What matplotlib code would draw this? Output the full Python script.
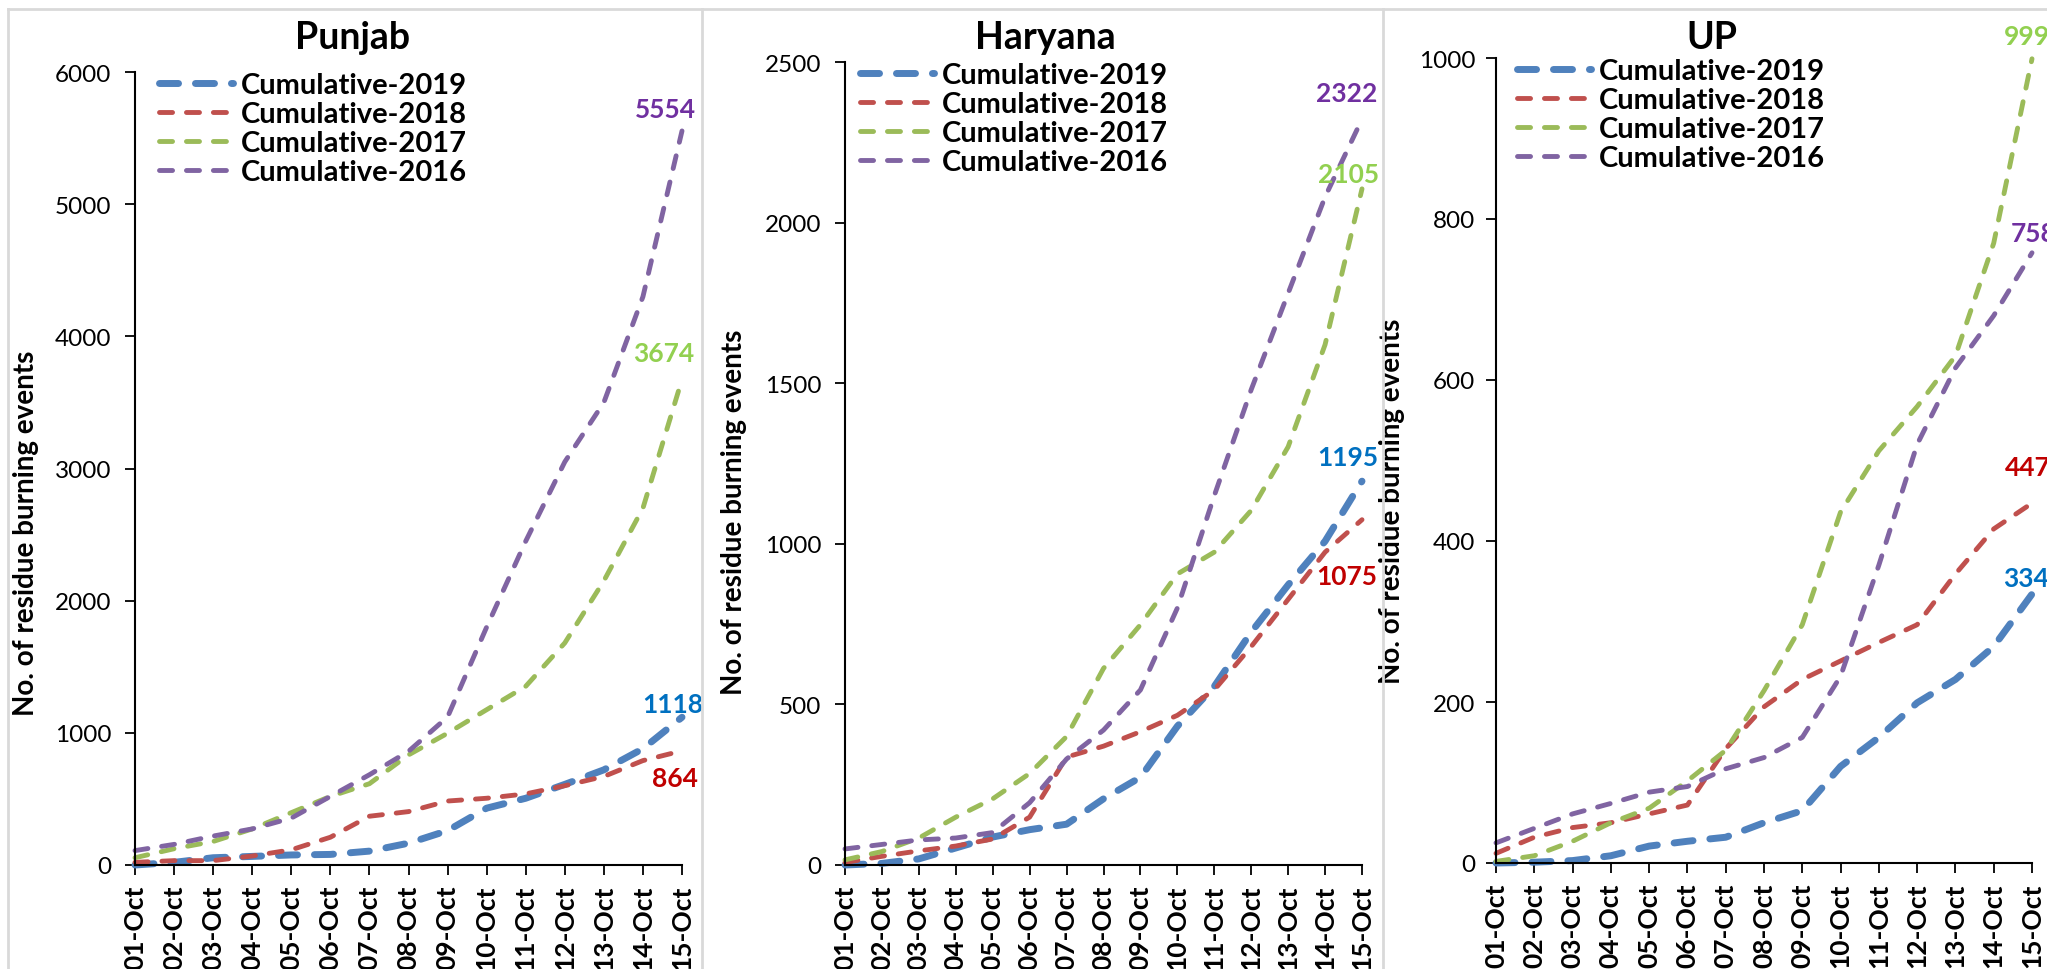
import matplotlib
matplotlib.use('Agg')
import matplotlib.pyplot as plt
from matplotlib.lines import Line2D
from matplotlib.font_manager import FontProperties

plt.rcParams['font.family'] = ['Lato', 'DejaVu Sans']
plt.rcParams['lines.scale_dashes'] = False

days = ['01-Oct', '02-Oct', '03-Oct', '04-Oct', '05-Oct', '06-Oct', '07-Oct', '08-Oct',
        '09-Oct', '10-Oct', '11-Oct', '12-Oct', '13-Oct', '14-Oct', '15-Oct']
series_names = ['Cumulative-2019', 'Cumulative-2018', 'Cumulative-2017', 'Cumulative-2016']

punjab_2019 = [0, 20, 55, 65, 76, 80, 105, 165, 260, 430, 505, 610, 720, 880, 1118]
punjab_2018 = [20, 33, 33, 68, 115, 210, 369, 404, 484, 505, 538, 600, 670, 790, 864]
punjab_2017 = [55, 123, 178, 273, 396, 519, 615, 833, 997, 1175, 1352, 1680, 2150, 2700, 3674]
punjab_2016 = [109, 156, 219, 273, 355, 519, 683, 860, 1120, 1800, 2450, 3050, 3500, 4300, 5554]

haryana_2019 = [0, 5, 19, 53, 87, 110, 127, 206, 273, 432, 556, 725, 872, 1008, 1195]
haryana_2018 = [8, 27, 44, 59, 81, 149, 336, 370, 415, 466, 545, 680, 827, 974, 1075]
haryana_2017 = [16, 42, 84, 149, 206, 285, 400, 612, 748, 906, 974, 1104, 1302, 1620, 2105]
haryana_2016 = [50, 64, 78, 84, 101, 194, 330, 420, 545, 800, 1150, 1480, 1780, 2080, 2322]

up_2019 = [0, 1, 3, 9, 21, 27, 32, 50, 65, 120, 156, 199, 228, 269, 334]
up_2018 = [12, 32, 44, 50, 61, 72, 142, 194, 228, 251, 274, 296, 359, 415, 447]
up_2017 = [2, 9, 27, 50, 68, 102, 140, 214, 296, 436, 512, 567, 630, 770, 999]
up_2016 = [25, 43, 61, 74, 88, 95, 117, 131, 156, 232, 370, 520, 615, 680, 758]

punjab_ticks = [0, 1000, 2000, 3000, 4000, 5000, 6000]
haryana_ticks = [0, 500, 1000, 1500, 2000, 2500]
up_ticks = [0, 200, 400, 600, 800, 1000]

line_colors = ['#4F81BD', '#C0504D', '#9BBB59', '#8064A2']
label_colors = ['#0070C0', '#C00000', '#92D050', '#7030A0']

W, H = 2047, 970
fig = plt.figure(figsize=(W / 100, H / 100), dpi=100)
fig.patch.set_facecolor('white')

# panel frames (light gray)
for x in [8, 702, 1383]:
    fig.add_artist(Line2D([x / W, x / W], [0, 1 - 10 / H], transform=fig.transFigure,
                          color='#D9D9D9', lw=2))
fig.add_artist(Line2D([8 / W, 1], [1 - 10 / H, 1 - 10 / H], transform=fig.transFigure,
                      color='#D9D9D9', lw=2))

panels = [
    dict(title='Punjab', data=[punjab_2019, punjab_2018, punjab_2017, punjab_2016],
         ticks=punjab_ticks, box=(135, 682, 73, 866), center=352,
         leg=(0.044, 1.0), ylab=(-0.176, 0.42), pad=10,
         offs=[(-9, 13), (-7, -27), (-18, 26), (-17, 22)]),
    dict(title='Haryana', data=[haryana_2019, haryana_2018, haryana_2017, haryana_2016],
         ticks=haryana_ticks, box=(845, 1362, 63, 866), center=1045,
         leg=(0.029, 1.0), ylab=(-0.19, 0.44), pad=10,
         offs=[(-14, 24), (-15, -56), (-13, 15), (-15, 26)]),
    dict(title='UP', data=[up_2019, up_2018, up_2017, up_2016],
         ticks=up_ticks, box=(1496, 2032, 59, 864), center=1712,
         leg=(0.039, 1.0), ylab=(-0.17, 0.45), pad=8,
         offs=[(-6, 16), (-4, 36), (-5, 23), (2, 20)]),
]

lws = [5.0, 3.5, 3.5, 3.5]
dash_patterns = [(13.7, 12.2), (9.4, 10.0), (9.4, 10.0), (9.4, 10.0)]

for p in panels:
    l, r, t, b = p['box']
    ax = fig.add_axes([l / W, 1 - b / H, (r - l) / W, (b - t) / H])
    x = list(range(len(days)))
    for vals, name, c, lw, dp in zip(p['data'], series_names, line_colors, lws, dash_patterns):
        ax.plot(x, vals, color=c, lw=lw, linestyle=(0, dp), dash_capstyle='round',
                solid_capstyle='round', label=name, clip_on=False)
    for vals, c, off in zip(p['data'], label_colors, p['offs']):
        ax.annotate(str(vals[-1]), (x[-1], vals[-1]), xytext=off, textcoords='offset pixels',
                    ha='center', va='center', color=c, fontsize=19, fontweight='bold',
                    annotation_clip=False)
    ax.set_xlim(0, len(days) - 1)
    ax.set_ylim(p['ticks'][0], p['ticks'][-1])
    ax.set_yticks(p['ticks'])
    ax.set_yticklabels([str(v) for v in p['ticks']])
    ax.set_xticks(x)
    ax.set_xticklabels(days, rotation=90, fontweight='bold', fontsize=19)
    ax.tick_params(axis='y', labelsize=17.5, length=7, width=1.3, direction='out', pad=p['pad'])
    ax.tick_params(axis='x', length=7, width=1.3, direction='out', pad=7)
    for s in ['top', 'right']:
        ax.spines[s].set_visible(False)
    for s in ['left', 'bottom']:
        ax.spines[s].set_linewidth(1.5)
    ax.set_ylabel('No. of residue burning events', fontsize=20, fontweight='bold')
    ax.yaxis.set_label_coords(*p['ylab'])
    ax.legend(loc='upper left', bbox_to_anchor=p['leg'], frameon=False,
              prop=FontProperties(family=['Lato', 'DejaVu Sans'], weight='bold', size=21),
              handlelength=2.55, handletextpad=0.27, labelspacing=0.1,
              borderaxespad=0, borderpad=0)
    fig.text(p['center'] / W, 1 - 38 / H, p['title'], ha='center', va='center',
             fontsize=27, fontweight='bold')

fig.savefig('out.png', dpi=100, facecolor='white')
